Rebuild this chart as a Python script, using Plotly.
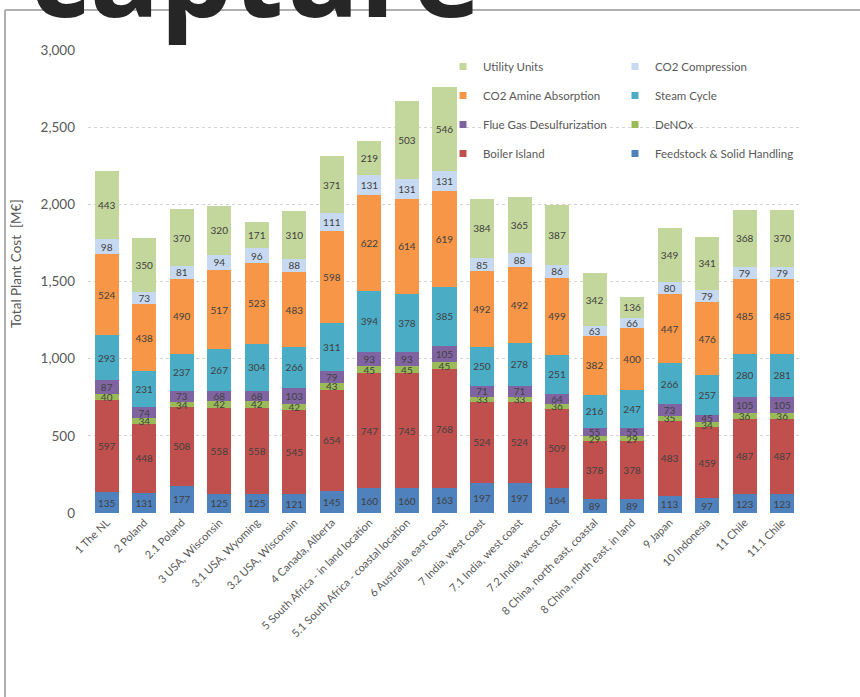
import plotly.graph_objects as go

# Plant locations (x-axis categories)
locations = [
    "1 The NL", "2 Poland", "2.1 Poland", "3 USA, Wisconsin", "3.1 USA, Wyoming",
    "3.2 USA, Wisconsin", "4 Canada, Alberta", "5 South Africa - in land location",
    "5.1 South Africa - coastal location", "6 Australia, east coast",
    "7 India, west coast", "7.1 India, west coast", "7.2 India, west coast",
    "8 China, north east, coastal", "8 China, north east, in land", "9 Japan",
    "10 Indonesia", "11 Chile", "11.1 Chile",
]

# Cost components in M€ (stacked bottom to top)
feedstock = [135, 131, 177, 125, 125, 121, 145, 160, 160, 163, 197, 197, 164, 89, 89, 113, 97, 123, 123]
boiler_island = [597, 448, 508, 558, 558, 545, 654, 747, 745, 768, 524, 524, 509, 378, 378, 483, 459, 487, 487]
denox = [40, 34, 34, 42, 42, 42, 43, 45, 45, 45, 33, 33, 36, 29, 29, 35, 34, 36, 36]
flue_gas_desulf = [87, 74, 73, 68, 68, 103, 79, 93, 93, 105, 71, 71, 64, 55, 55, 73, 45, 105, 105]
steam_cycle = [293, 231, 237, 267, 304, 266, 311, 394, 378, 385, 250, 278, 251, 216, 247, 266, 257, 280, 281]
amine_absorption = [524, 438, 490, 517, 523, 483, 598, 622, 614, 619, 492, 492, 499, 382, 400, 447, 476, 485, 485]
co2_compression = [98, 73, 81, 94, 96, 88, 111, 131, 131, 131, 85, 88, 86, 63, 66, 80, 79, 79, 79]
utility_units = [443, 350, 370, 320, 171, 310, 371, 219, 503, 546, 384, 365, 387, 342, 136, 349, 341, 368, 370]

y_ticks = [0, 500, 1000, 1500, 2000, 2500, 3000]

# name, values, colour, legend column, rank within the legend column
series = [
    ("Feedstock & Solid Handling", feedstock, "#4f81bd", "legend2", 4),
    ("Boiler Island", boiler_island, "#c0504d", "legend", 4),
    ("DeNOx", denox, "#9bbb59", "legend2", 3),
    ("Flue Gas Desulfurization", flue_gas_desulf, "#8064a2", "legend", 3),
    ("Steam Cycle", steam_cycle, "#4bacc6", "legend2", 2),
    ("CO2 Amine Absorption", amine_absorption, "#f79646", "legend", 2),
    ("CO2 Compression", co2_compression, "#c6d9f1", "legend2", 1),
    ("Utility Units", utility_units, "#c3d69b", "legend", 1),
]

FONT = "Lato, 'Open Sans', sans-serif"
GREY = "#595959"

fig = go.Figure()
for name, vals, color, leg, rank in series:
    fig.add_trace(go.Bar(
        x=locations, y=vals, name=name, marker=dict(color=color, line=dict(width=0)),
        text=vals, textposition="inside", insidetextanchor="middle", textangle=0,
        textfont=dict(family=FONT, size=10, color="#404040"),
        showlegend=False, hoverinfo="x+y+name",
    ))
    # legend entry with small square swatch
    fig.add_trace(go.Scatter(
        x=[None], y=[None], mode="markers", name=name, legend=leg, legendgroup=name,
        legendrank=rank, marker=dict(symbol="square", size=7, color=color),
    ))

W, H = 860, 697
L, R, T, B = 88, 59, 50, 184
pw, ph = W - L - R, H - T - B


def px(xp):
    return (xp - L) / pw


def py(yp):
    return (H - B - yp) / ph


legend_common = dict(
    font=dict(family=FONT, size=11.5, color=GREY), bgcolor="rgba(0,0,0,0)",
    traceorder="grouped", tracegroupgap=10, itemwidth=30,
    xanchor="left", yanchor="top",
)

fig.update_layout(
    width=W, height=H,
    margin=dict(l=L, r=R, t=T, b=B),
    paper_bgcolor="white", plot_bgcolor="white",
    barmode="stack", bargap=0.36,
    uniformtext=dict(minsize=10, mode="show"),
    font=dict(family=FONT, color=GREY),
    legend=dict(x=px(443), y=py(52), **legend_common),
    legend2=dict(x=px(615), y=py(52), **legend_common),
    xaxis=dict(
        tickangle=-45, tickfont=dict(family=FONT, size=11, color=GREY),
        showgrid=False, showline=False, ticks="", zeroline=False,
    ),
    yaxis=dict(
        range=[0, 3000], tickvals=y_ticks, tickformat=",",
        tickfont=dict(family=FONT, size=13.5, color=GREY),
        showgrid=True, gridcolor="#d4d4d4", griddash="dot", gridwidth=1,
        zeroline=False, showline=False, ticks="", ticklabelstandoff=12,
    ),
    shapes=[
        dict(type="line", xref="paper", yref="paper", x0=px(5), x1=px(862), y0=py(10), y1=py(10),
             line=dict(color="#b0b0b0", width=2)),
        dict(type="line", xref="paper", yref="paper", x0=px(5), x1=px(5), y0=py(10), y1=py(700),
             line=dict(color="#b0b0b0", width=2)),
    ],
    annotations=[
        dict(text="Total Plant Cost  [M€]", textangle=-90, xref="paper", yref="paper",
             x=px(16), y=py(264), showarrow=False, xanchor="center", yanchor="middle",
             font=dict(family=FONT, size=13.5, color=GREY)),
        dict(text="<b>capture</b>", xref="paper", yref="paper", x=px(255), y=py(-28),
             showarrow=False, xanchor="center", yanchor="middle",
             font=dict(family="'Open Sans', sans-serif", size=116, color="#262626")),
    ],
)

fig.write_html("out.html")
